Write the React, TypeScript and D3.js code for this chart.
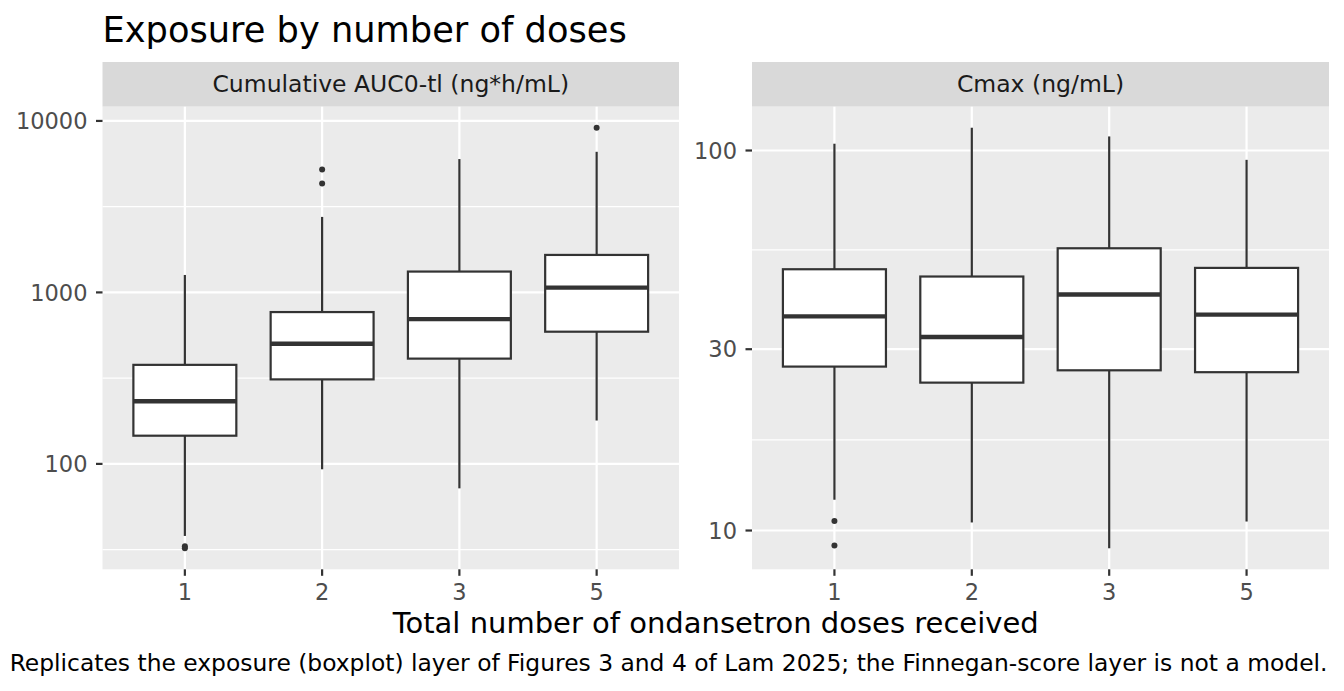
import * as d3 from "d3";

// Dose groups (x categories)
const doses = ["1", "2", "3", "5"];

// Cumulative AUC0-tl (ng*h/mL) box statistics per dose group
const aucLower = [38, 93, 72, 179];
const aucQ1 = [146, 311, 411, 590];
const aucMedian = [232, 502, 699, 1067];
const aucQ3 = [378, 768, 1323, 1654];
const aucUpper = [1264, 2756, 5992, 6607];
const aucOutliers = [[33.1, 32.2], [5215, 4320], [], [9128]];
const aucBreaks = [100, 1000, 10000];

// Cmax (ng/mL) box statistics per dose group
const cmaxLower = [12.05, 10.5, 8.98, 10.56];
const cmaxQ1 = [27.0, 24.5, 26.4, 26.1];
const cmaxMedian = [36.6, 32.3, 41.8, 37.0];
const cmaxQ3 = [48.7, 46.6, 55.3, 49.1];
const cmaxUpper = [104.2, 114.8, 108.9, 94.5];
const cmaxOutliers = [[10.59, 9.13], [], [], []];
const cmaxBreaks = [10, 30, 100];

const W = 1344;
const H = 691;
const FONT = "'DejaVu Sans', Verdana, sans-serif";
const PANEL_TOP = 106.7;
const PANEL_BOTTOM = 569.3;
const STRIP_TOP = 62;

type Facet = {
  label: string;
  lower: number[];
  q1: number[];
  median: number[];
  q3: number[];
  upper: number[];
  outliers: number[][];
  breaks: number[];
  x0: number;
  x1: number;
};

const facets: Facet[] = [
  {
    label: "Cumulative AUC0-tl (ng*h/mL)",
    lower: aucLower, q1: aucQ1, median: aucMedian, q3: aucQ3, upper: aucUpper,
    outliers: aucOutliers, breaks: aucBreaks, x0: 102.5, x1: 679,
  },
  {
    label: "Cmax (ng/mL)",
    lower: cmaxLower, q1: cmaxQ1, median: cmaxMedian, q3: cmaxQ3, upper: cmaxUpper,
    outliers: cmaxOutliers, breaks: cmaxBreaks, x0: 752, x1: 1329,
  },
];

function Panel({ f }: { f: Facet }) {
  const x = d3.scalePoint<string>().domain(doses).range([f.x0, f.x1]).padding(0.6);
  const boxW = x.step() * 0.75;

  // ggplot-like 5% expansion on the log scale
  const all = [...f.lower, ...f.upper, ...f.outliers.flat()];
  const lo = Math.log10(d3.min(all)!);
  const hi = Math.log10(d3.max(all)!);
  const pad = (hi - lo) * 0.05;
  const y = d3.scaleLog().domain([10 ** (lo - pad), 10 ** (hi + pad)]).range([PANEL_BOTTOM, PANEL_TOP]);

  // minor breaks: midpoints between (extended) major breaks in log space
  const lb = f.breaks.map(Math.log10);
  const ext = [lb[0] - (lb[1] - lb[0]), ...lb, lb[lb.length - 1] + (lb[lb.length - 1] - lb[lb.length - 2])];
  const minors = d3.pairs(ext).map(([a, b]) => 10 ** ((a + b) / 2))
    .filter((v) => y(v) <= PANEL_BOTTOM && y(v) >= PANEL_TOP);

  const ink = "#333333";
  return (
    <g>
      {/* strip */}
      <rect x={f.x0} y={STRIP_TOP} width={f.x1 - f.x0} height={PANEL_TOP - STRIP_TOP} fill="#D9D9D9" />
      <text x={(f.x0 + f.x1) / 2} y={92.3} textAnchor="middle" fontSize={23.5} fill="#1A1A1A">{f.label}</text>

      {/* panel background + grid */}
      <rect x={f.x0} y={PANEL_TOP} width={f.x1 - f.x0} height={PANEL_BOTTOM - PANEL_TOP} fill="#EBEBEB" />
      {minors.map((v, i) => (
        <line key={"mn" + i} x1={f.x0} x2={f.x1} y1={y(v)} y2={y(v)} stroke="#fff" strokeWidth={1.1} />
      ))}
      {f.breaks.map((v) => (
        <line key={"mj" + v} x1={f.x0} x2={f.x1} y1={y(v)} y2={y(v)} stroke="#fff" strokeWidth={2.2} />
      ))}
      {doses.map((d) => (
        <line key={"vx" + d} x1={x(d)} x2={x(d)} y1={PANEL_TOP} y2={PANEL_BOTTOM} stroke="#fff" strokeWidth={2.2} />
      ))}

      {/* boxes */}
      {doses.map((d, i) => {
        const cx = x(d)!;
        return (
          <g key={"bx" + d}>
            <line x1={cx} x2={cx} y1={y(f.q3[i])} y2={y(f.upper[i])} stroke={ink} strokeWidth={2.2} />
            <line x1={cx} x2={cx} y1={y(f.q1[i])} y2={y(f.lower[i])} stroke={ink} strokeWidth={2.2} />
            <rect x={cx - boxW / 2} y={y(f.q3[i])} width={boxW} height={y(f.q1[i]) - y(f.q3[i])}
              fill="#fff" stroke={ink} strokeWidth={2.2} />
            <line x1={cx - boxW / 2} x2={cx + boxW / 2} y1={y(f.median[i])} y2={y(f.median[i])}
              stroke={ink} strokeWidth={4.4} />
            {f.outliers[i].map((o, j) => (
              <circle key={j} cx={cx} cy={y(o)} r={3} fill={ink} />
            ))}
          </g>
        );
      })}

      {/* y axis */}
      {f.breaks.map((v) => (
        <g key={"yt" + v}>
          <line x1={f.x0 - 6.5} x2={f.x0} y1={y(v)} y2={y(v)} stroke={ink} strokeWidth={2.2} />
          <text x={f.x0 - 15} y={y(v)} dy="0.36em" textAnchor="end" fontSize={22.5} fill="#4D4D4D">{String(v)}</text>
        </g>
      ))}

      {/* x axis */}
      {doses.map((d) => (
        <g key={"xt" + d}>
          <line x1={x(d)} x2={x(d)} y1={PANEL_BOTTOM} y2={PANEL_BOTTOM + 6.5} stroke={ink} strokeWidth={2.2} />
          <text x={x(d)} y={600} textAnchor="middle" fontSize={22.5} fill="#4D4D4D">{d}</text>
        </g>
      ))}
    </g>
  );
}

export default function App() {
  return (
    <div style={{ position: "fixed", left: 0, top: 0, width: W, height: H, background: "#fff" }}>
      <svg width={W} height={H} style={{ display: "block", fontFamily: FONT }}>
        <rect width={W} height={H} fill="#fff" />
        <text x={102.5} y={41.7} fontSize={35.2} fill="#000">Exposure by number of doses</text>
        {facets.map((f) => (
          <Panel key={f.label} f={f} />
        ))}
        <text x={715.7} y={633.3} textAnchor="middle" fontSize={29} fill="#000">
          Total number of ondansetron doses received
        </text>
        <text x={1327.5} y={670.7} textAnchor="end" fontSize={23.4} fill="#000">
          Replicates the exposure (boxplot) layer of Figures 3 and 4 of Lam 2025; the Finnegan-score layer is not a model.
        </text>
      </svg>
    </div>
  );
}
